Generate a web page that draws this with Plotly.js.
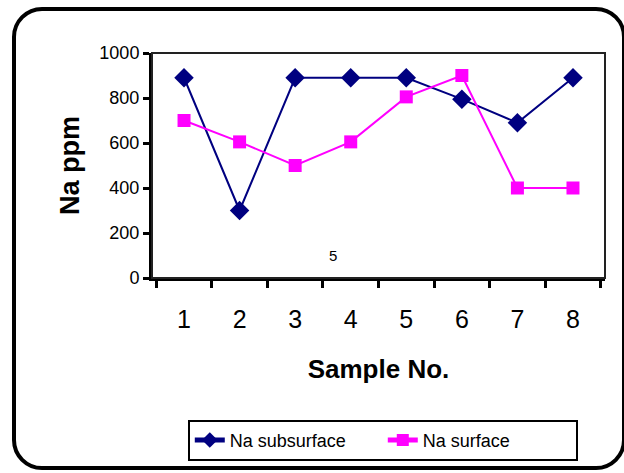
<!DOCTYPE html>
<html>
<head>
<meta charset="utf-8">
<script src="https://cdn.plot.ly/plotly-3.0.1.min.js"></script>
<style>
  html, body { margin:0; padding:0; background:#fff; }
  #wrap { position:relative; width:624px; height:473px; overflow:hidden; }
  #frame { position:absolute; left:12px; top:7px; width:606px; height:455px;
           border:4.5px solid #000; border-radius:30px; }
  #chart { position:absolute; left:0; top:0; width:624px; height:473px; }
</style>
</head>
<body>
<div id="wrap">
  <div id="frame"></div>
  <div id="chart"></div>
</div>
<script>
const samples = ['1','2','3','4','5','6','7','8'];
const naSubsurface = [890, 300, 890, 890, 890, 795, 690, 890];
const naSurface = [700, 605, 500, 605, 805, 900, 400, 400];
const yTicks = [0, 200, 400, 600, 800, 1000];

const traces = [
  { x: samples, y: naSubsurface, name: 'Na subsurface', type: 'scatter', mode: 'lines+markers',
    line: { color: '#000080', width: 2 },
    marker: { symbol: 'diamond', size: 15, color: '#000080' } },
  { x: samples, y: naSurface, name: 'Na surface', type: 'scatter', mode: 'lines+markers',
    line: { color: '#FF00FF', width: 2 },
    marker: { symbol: 'square', size: 13, color: '#FF00FF' } }
];

const layout = {
  width: 624, height: 473,
  margin: { l: 152, r: 19, t: 53, b: 193 },
  paper_bgcolor: 'rgba(0,0,0,0)',
  plot_bgcolor: '#fff',
  font: { family: 'Liberation Sans, Arial, sans-serif', color: '#000' },
  showlegend: true,
  xaxis: {
    type: 'category', tickson: 'boundaries',
    showline: true, linecolor: '#000', linewidth: 3,
    ticks: 'outside', ticklen: 7, tickwidth: 3, tickcolor: '#000',
    showgrid: false, zeroline: false,
    tickfont: { size: 25 }, ticklabelstandoff: 17,
    title: { text: '<b>Sample No.</b>', font: { size: 26 }, standoff: 28 },
    automargin: false
  },
  yaxis: {
    range: [0, 1000], tickmode: 'array', tickvals: yTicks, ticktext: yTicks.map(String),
    showline: true, linecolor: '#000', linewidth: 3,
    ticks: 'outside', ticklen: 6, tickwidth: 3, tickcolor: '#000',
    showgrid: false, zeroline: false,
    tickfont: { size: 18 },
    title: { text: '<b>Na ppm</b>', font: { size: 27 }, standoff: 12 },
    automargin: false
  },
  shapes: [
    { type: 'rect', xref: 'paper', yref: 'paper', x0: 0, x1: 1, y0: 0, y1: 1,
      line: { color: '#222', width: 2 } }
  ],
  annotations: [
    { text: '5', xref: 'paper', yref: 'paper', x: 0.40, y: 0.10, yanchor: 'middle',
      showarrow: false, font: { size: 15 } }
  ],
  legend: {
    orientation: 'h', x: 0.079, y: -0.63, xanchor: 'left', yanchor: 'top',
    bordercolor: '#000', borderwidth: 2, bgcolor: '#fff',
    font: { size: 18 }, entrywidth: 148, entrywidthmode: 'pixels', itemsizing: 'constant'
  }
};

Plotly.newPlot('chart', traces, layout, { displayModeBar: false, staticPlot: true });
</script>
</body>
</html>
